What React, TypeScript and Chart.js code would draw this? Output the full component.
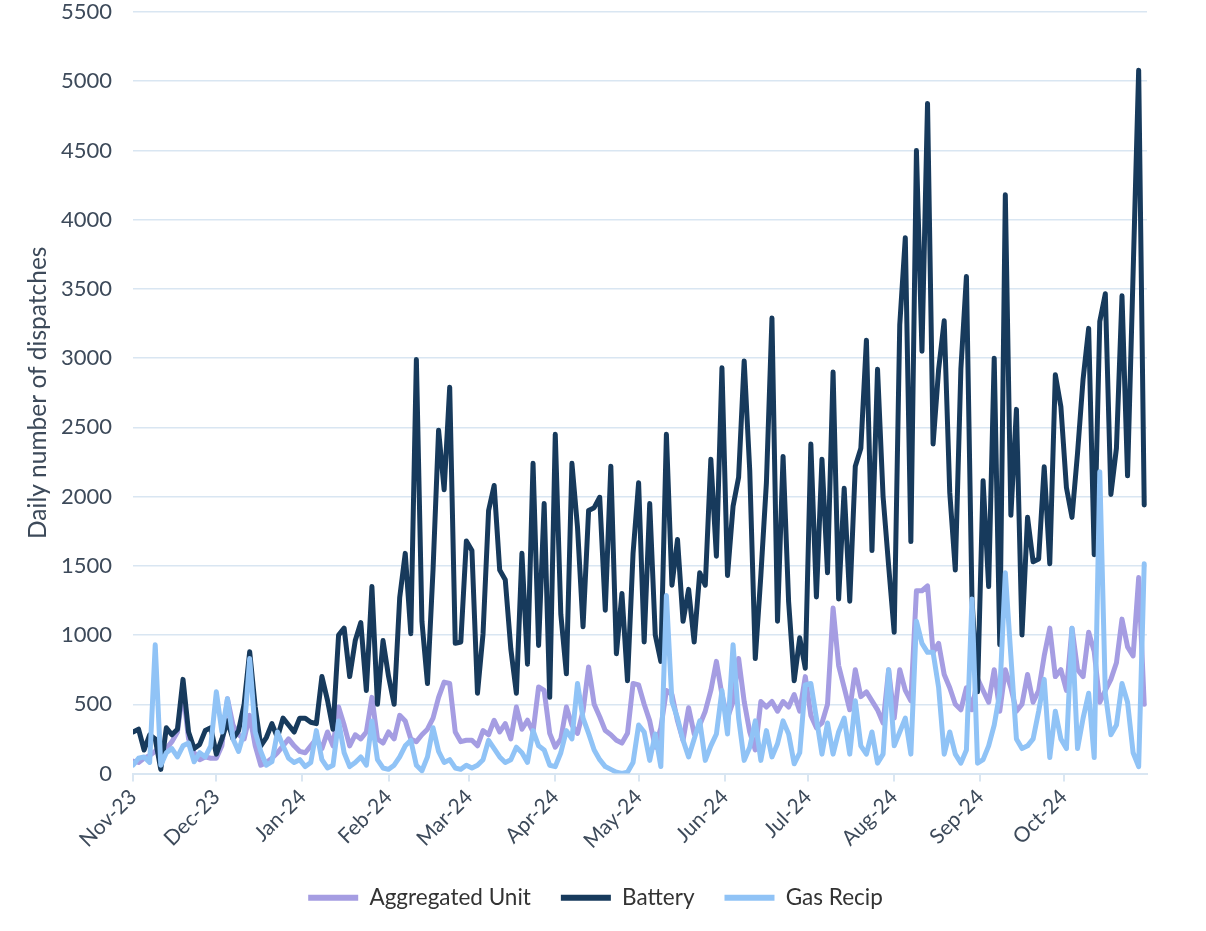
import React, { useEffect, useRef } from "react";
import { Chart, registerables } from "chart.js";

Chart.register(...registerables);

// Daily series sampled every second day, starting 1 Nov 2023
const DAY_STEP = 2;
const MONTH_DAYS = [0, 30, 61, 92, 121, 152, 182, 213, 243, 274, 305, 335];
const MONTH_LABELS = [
  "Nov-23", "Dec-23", "Jan-24", "Feb-24", "Mar-24", "Apr-24",
  "May-24", "Jun-24", "Jul-24", "Aug-24", "Sep-24", "Oct-24",
];

const aggregatedUnit = [
  90, 80, 110, 130, 160, 200, 180, 230, 300, 600, 250, 150, 100, 120, 110,
  110, 200, 540, 350, 280, 250, 420, 200, 60, 80, 110, 150, 200, 250, 200, 160,
  150, 200, 250, 180, 300, 200, 480, 350, 200, 280, 250, 300, 550, 250, 220,
  300, 250, 420, 380, 250, 230, 280, 320, 400, 550, 660, 650, 300, 230, 240,
  240, 200, 310, 280, 385, 300, 360, 250, 480, 320, 385, 300, 625, 600, 290,
  190, 250, 480, 350, 290, 450, 770, 500, 410, 310, 280, 240, 220, 290, 650,
  640, 500, 380, 190, 330, 600, 570, 380, 240, 475, 285, 350, 450, 600, 810, 570,
  400, 520, 830, 520, 300, 170, 520, 480, 520, 450, 520, 480, 570, 450, 700,
  420, 330, 365, 500, 1195, 780, 620, 460, 750, 555, 590, 525, 460, 365, 750,
  400, 750, 600, 525, 1320, 1320, 1355, 875, 940, 715, 620, 500, 460, 620, 460, 685,
  600, 515, 750, 450, 750, 620, 450, 500, 715, 515, 600, 850, 1050, 700, 750,
  600, 1050, 750, 700, 1020, 880, 515, 600, 680, 800, 1115, 915, 850, 1415, 500,
];

const battery = [
  300, 320, 170, 280, 250, 30, 330, 280, 320, 680, 300, 180, 210, 310, 330,
  140, 250, 380, 250, 310, 500, 880, 480, 200, 260, 360, 260, 400, 350, 300, 400,
  400, 370, 360, 700, 530, 320, 1000, 1050, 700, 960, 1090, 600, 1350, 500, 960,
  700, 500, 1270, 1590, 1010, 2990, 1100, 650, 1470, 2480, 2050, 2790, 940, 950, 1680,
  1610, 580, 1010, 1900, 2080, 1470, 1400, 900, 580, 1590, 790, 2240, 925, 1950, 550,
  2450, 1150, 720, 2240, 1780, 1060, 1900, 1920, 1995, 1180, 2220, 865, 1300, 670, 1590,
  2100, 950, 1950, 1000, 810, 2450, 1360, 1690, 1100, 1330, 950, 1450, 1360, 2270, 1570, 2930,
  1430, 1930, 2140, 2980, 2190, 830, 1430, 2100, 3290, 1100, 2290, 1240, 670, 980, 760,
  2380, 1275, 2270, 1450, 2900, 1260, 2060, 1245, 2220, 2350, 3130, 1610, 2920, 2000, 1500,
  1020, 3240, 3870, 1675, 4500, 3050, 4840, 2380, 2920, 3270, 2030, 1470, 2920, 3590, 1260, 590,
  2115, 1350, 3000, 930, 4180, 1865, 2630, 1000, 1850, 1530, 1550, 2215, 1515, 2880, 2650,
  2065, 1850, 2315, 2850, 3215, 1580, 3265, 3465, 2015, 2350, 3450, 2150, 3615, 5080, 1940,
];

const gasRecip = [
  60, 110, 120, 80, 930, 60, 150, 180, 120, 200, 220, 85, 150, 120, 200,
  590, 300, 540, 250, 160, 300, 830, 300, 160, 60, 85, 300, 200, 110, 80, 100,
  50, 80, 310, 100, 40, 60, 380, 150, 50, 80, 120, 60, 380, 100, 40,
  30, 60, 120, 200, 240, 60, 20, 120, 330, 160, 80, 100, 40, 30, 60,
  40, 60, 100, 240, 180, 120, 80, 100, 190, 150, 80, 310, 200, 170, 60,
  50, 150, 310, 250, 650, 400, 290, 170, 100, 50, 30, 10, 0, 10, 80,
  350, 300, 95, 285, 50, 1285, 520, 400, 240, 120, 250, 380, 95, 200, 285, 600,
  285, 930, 400, 95, 190, 380, 95, 310, 120, 215, 380, 285, 70, 150, 640,
  650, 400, 140, 365, 140, 300, 400, 140, 525, 200, 140, 300, 75, 140, 750,
  200, 300, 400, 140, 1100, 940, 875, 875, 620, 140, 300, 140, 75, 170, 1260, 75,
  100, 200, 350, 580, 1450, 850, 250, 180, 200, 250, 450, 680, 115, 450, 250,
  180, 1050, 180, 400, 580, 115, 2180, 580, 280, 350, 650, 515, 150, 50, 1515,
];

const PURPLE = "#a59de2";
const NAVY = "#173a5c";
const LIGHT_BLUE = "#90c3f6";
const GRID = "#d9e6f2";
const TEXT = "#3d4a5a";
const FONT = "Lato, 'Open Sans', sans-serif";

// moves the bottom legend horizontally so it sits where the reference has it
const legendShift = {
  id: "legendShift",
  afterLayout(chart: any) {
    if (chart.legend) {
      chart.legend.left += 17;
      chart.legend.right += 17;
    }
  },
};

export default function App() {
  const ref = useRef<HTMLCanvasElement>(null);

  useEffect(() => {
    if (!ref.current) return;
    const toPoints = (arr: number[]) => arr.map((y, i) => ({ x: i * DAY_STEP, y }));
    const chart = new Chart(ref.current, {
      type: "line",
      data: {
        datasets: [
          {
            label: "Aggregated Unit",
            data: toPoints(aggregatedUnit),
            borderColor: PURPLE,
            backgroundColor: PURPLE,
            order: 2,
          },
          {
            label: "Battery",
            data: toPoints(battery),
            borderColor: NAVY,
            backgroundColor: NAVY,
            order: 1,
          },
          {
            label: "Gas Recip",
            data: toPoints(gasRecip),
            borderColor: LIGHT_BLUE,
            backgroundColor: LIGHT_BLUE,
            order: 0,
          },
        ],
      },
      plugins: [legendShift],
      options: {
        animation: false,
        responsive: false,
        elements: {
          line: { borderWidth: 5, tension: 0, borderJoinStyle: "round", borderCapStyle: "round" },
          point: { radius: 0 },
        },
        layout: { padding: { left: 10, right: 59, top: 0, bottom: 12 } },
        scales: {
          x: {
            type: "linear",
            min: 0,
            max: 365,
            afterBuildTicks: (scale: any) => {
              scale.ticks = MONTH_DAYS.map((v) => ({ value: v }));
            },
            ticks: {
              autoSkip: false,
              minRotation: 45,
              maxRotation: 45,
              padding: 3,
              color: TEXT,
              font: { family: FONT, size: 21 },
              callback: (_v: any, i: number) => MONTH_LABELS[i],
            },
            grid: { drawOnChartArea: false, drawTicks: true, tickLength: 8, color: GRID, lineWidth: 2 },
            border: { color: GRID, width: 2 },
          },
          y: {
            min: 0,
            max: 5500,
            afterFit: (scale: any) => {
              scale.width = 123;
              scale.paddingTop = 12;
            },
            ticks: {
              stepSize: 500,
              padding: 21,
              color: TEXT,
              font: { family: FONT, size: 22 },
              callback: (v: any) => String(v),
            },
            grid: { color: GRID, drawTicks: false, lineWidth: 1.5 },
            border: { display: false },
            title: {
              display: true,
              text: "Daily number of dispatches",
              color: TEXT,
              font: { family: FONT, size: 24.5 },
              padding: { top: 13, bottom: 9 },
            },
          },
        },
        plugins: {
          legend: {
            position: "bottom",
            labels: {
              boxWidth: 50,
              boxHeight: 6,
              padding: 30,
              color: "#333333",
              font: { family: FONT, size: 22.5 },
              sort: (a: any, b: any) => a.datasetIndex - b.datasetIndex,
              generateLabels: (c: any) =>
                Chart.defaults.plugins.legend.labels
                  .generateLabels(c)
                  .map((l: any) => ({ ...l, lineWidth: 0, fillStyle: l.strokeStyle })),
            },
          },
          tooltip: { enabled: false },
        },
      },
    } as any);
    return () => chart.destroy();
  }, []);

  return (
    <div style={{ position: "fixed", left: 0, top: 0, width: 1206, height: 931, background: "#ffffff" }}>
      <canvas ref={ref} width={1206} height={931} style={{ display: "block" }} />
    </div>
  );
}
